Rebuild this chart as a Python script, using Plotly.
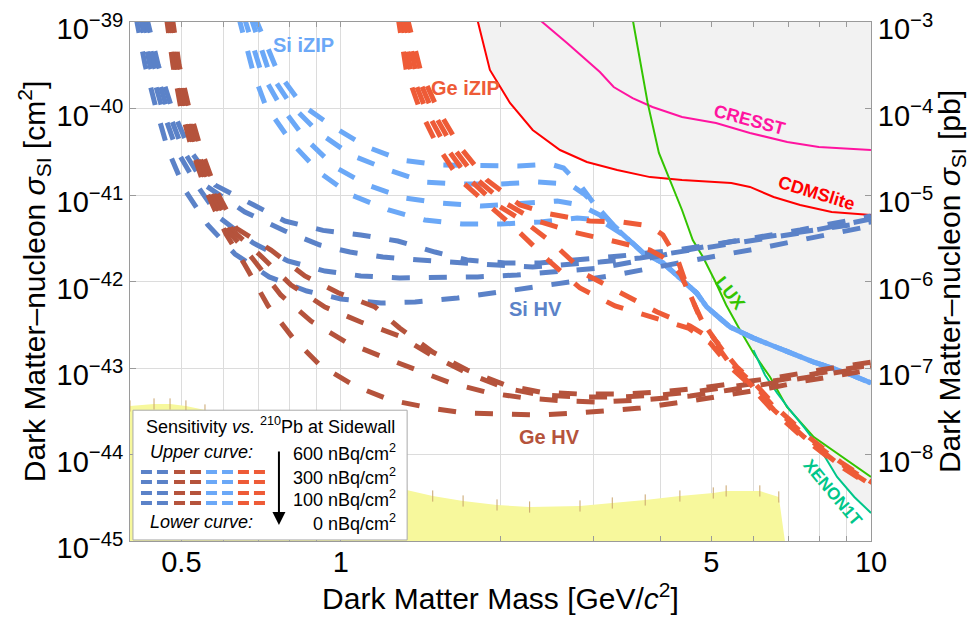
import numpy as np
import plotly.graph_objects as go

# ---------------- DATA (mass in GeV/c^2, sigma in cm^2) ----------------
# Si HV projected sensitivity, for 600 / 300 / 100 / 0 nBq/cm^2 of 210Pb
si_hv_600_m = [0.429, 0.452, 0.480, 0.519, 0.579, 0.674, 0.784, 0.925, 1.09, 1.28, 1.505, 1.73, 2.04, 2.375, 2.76, 3.36, 4.28, 5.4, 7.35, 10.0]
si_hv_600_s = [1.2e-39, 3.2e-40, 1.0e-40, 3.3e-41, 1.3e-41, 8.1e-42, 5.0e-42, 3.9e-42, 3.45e-42, 2.94e-42, 2.19e-42, 1.77e-42, 1.64e-42, 1.64e-42, 1.77e-42, 1.97e-42, 2.31e-42, 2.86e-42, 3.94e-42, 5.71e-42]
si_hv_300_m = [0.423, 0.444, 0.470, 0.504, 0.554, 0.659, 0.784, 0.913, 1.04, 1.20, 1.41, 1.66, 1.97, 2.30, 2.67, 3.08, 3.67, 4.56, 5.73, 7.35, 10.0]
si_hv_300_s = [1.2e-39, 3.2e-40, 1.0e-40, 3.3e-41, 1.3e-41, 6.36e-42, 3.84e-42, 2.64e-42, 2.19e-42, 1.92e-42, 1.77e-42, 1.64e-42, 1.55e-42, 1.47e-42, 1.55e-42, 1.68e-42, 1.87e-42, 2.31e-42, 2.86e-42, 3.64e-42, 5.28e-42]
si_hv_100_m = [0.418, 0.436, 0.460, 0.490, 0.535, 0.591, 0.683, 0.794, 0.933, 1.09, 1.29, 1.54, 1.81, 2.15, 2.59, 3.08, 3.54, 4.3, 5.4, 7.35, 10.0]
si_hv_100_s = [1.2e-39, 3.2e-40, 1.0e-40, 3.3e-41, 1.3e-41, 5.42e-42, 2.79e-42, 1.73e-42, 1.32e-42, 1.16e-42, 1.10e-42, 1.10e-42, 1.13e-42, 1.19e-42, 1.29e-42, 1.43e-42, 1.68e-42, 2.19e-42, 2.86e-42, 3.73e-42, 4.87e-42]
si_hv_0_m = [0.410, 0.427, 0.448, 0.472, 0.508, 0.561, 0.631, 0.732, 0.862, 1.0, 1.19, 1.38, 1.66, 1.94, 2.31, 2.70, 3.22, 3.83, 4.76, 6.35, 8.43, 10.0]
si_hv_0_s = [1.2e-39, 3.2e-40, 1.0e-40, 3.3e-41, 1.14e-41, 4.5e-42, 2.08e-42, 1.13e-42, 7.77e-43, 6.28e-43, 5.64e-43, 5.79e-43, 6.44e-43, 7.36e-43, 8.41e-43, 9.86e-43, 1.16e-42, 1.43e-42, 1.82e-42, 2.51e-42, 3.54e-42, 4.39e-42]

# Ge HV
ge_hv_600_m = [0.48, 0.495, 0.517, 0.545, 0.581, 0.634, 0.738, 0.855, 0.99, 1.16, 1.29, 1.49, 1.73, 2.04, 2.375, 2.825, 3.36, 4.0, 4.76, 5.66, 6.73, 8.0, 10.0]
ge_hv_600_s = [1.2e-39, 3.2e-40, 1.0e-40, 3.3e-41, 1.14e-41, 4.15e-42, 2.31e-42, 1.16e-42, 7.36e-43, 5.07e-43, 2.90e-43, 1.53e-43, 9.48e-44, 6.36e-44, 5.28e-44, 5.0e-44, 5.0e-44, 5.28e-44, 5.87e-44, 6.71e-44, 7.87e-44, 9.48e-44, 1.17e-43]
ge_hv_300_m = [0.476, 0.49, 0.51, 0.535, 0.571, 0.623, 0.70, 0.805, 0.933, 1.09, 1.29, 1.49, 1.73, 2.04, 2.375, 2.825, 3.36, 4.0, 4.76, 5.66, 6.73, 8.0, 10.0]
ge_hv_300_s = [1.2e-39, 3.2e-40, 1.0e-40, 3.3e-41, 1.14e-41, 3.94e-42, 2.08e-42, 9.11e-43, 5.07e-43, 3.40e-43, 2.34e-43, 1.38e-43, 8.75e-44, 5.87e-44, 4.88e-44, 4.62e-44, 4.62e-44, 4.88e-44, 5.42e-44, 6.19e-44, 7.26e-44, 8.75e-44, 1.08e-43]
ge_hv_100_m = [0.472, 0.486, 0.506, 0.53, 0.564, 0.615, 0.68, 0.77, 0.878, 1.02, 1.185, 1.38, 1.61, 1.91, 2.225, 2.65, 3.08, 3.67, 4.56, 5.42, 6.45, 7.67, 10.0]
ge_hv_100_s = [1.2e-39, 3.2e-40, 1.0e-40, 3.3e-41, 1.14e-41, 3.73e-42, 1.87e-42, 6.98e-43, 3.49e-43, 2.0e-43, 1.38e-43, 9.48e-44, 6.71e-44, 5.14e-44, 4.50e-44, 4.15e-44, 4.04e-44, 4.27e-44, 4.74e-44, 5.57e-44, 6.53e-44, 7.87e-44, 1.03e-43]
ge_hv_0_m = [0.468, 0.482, 0.499, 0.524, 0.556, 0.607, 0.659, 0.729, 0.812, 0.913, 1.063, 1.238, 1.472, 1.714, 2.0, 2.375, 2.80, 3.22, 3.67, 4.56, 5.42, 6.45, 7.5, 8.74, 10.0]
ge_hv_0_s = [1.2e-39, 3.2e-40, 1.0e-40, 3.3e-41, 1.14e-41, 3.54e-42, 1.55e-42, 5.21e-43, 2.22e-43, 1.08e-43, 6.19e-44, 4.27e-44, 3.45e-44, 3.02e-44, 2.94e-44, 2.86e-44, 3.02e-44, 3.18e-44, 3.45e-44, 4.15e-44, 4.88e-44, 5.87e-44, 7.08e-44, 8.30e-44, 9.48e-44]

# Si iZIP (the four curves merge into a common high-mass tail)
si_izip_600_m = [0.686, 0.76, 0.844, 0.962, 1.12, 1.30, 1.545, 1.81, 2.16, 2.48, 2.63, 2.825, 3.015, 3.22]
si_izip_600_s = [1.2e-39, 2.64e-40, 1.10e-40, 6.28e-41, 3.59e-41, 2.54e-41, 2.22e-41, 2.16e-41, 2.16e-41, 2.28e-41, 2.05e-41, 1.31e-41, 7.66e-42, 4.87e-42]
si_izip_300_m = [0.674, 0.732, 0.805, 0.905, 1.045, 1.23, 1.44, 1.68, 1.99, 2.35, 2.70, 2.89, 3.08, 3.29]
si_izip_300_s = [1.2e-39, 2.64e-40, 1.10e-40, 5.35e-41, 2.90e-41, 1.95e-41, 1.41e-41, 1.34e-41, 1.34e-41, 1.41e-41, 1.34e-41, 1.0e-41, 6.71e-42, 4.27e-42]
si_izip_100_m = [0.655, 0.707, 0.767, 0.855, 0.974, 1.12, 1.32, 1.54, 1.84, 2.17, 2.56, 2.825, 3.08, 3.33]
si_izip_100_s = [1.2e-39, 2.64e-40, 1.10e-40, 4.56e-41, 2.11e-41, 1.31e-41, 9.23e-42, 8.09e-42, 7.46e-42, 7.87e-42, 8.52e-42, 7.66e-42, 5.87e-42, 3.94e-42]
si_izip_0_m = [0.64, 0.683, 0.72, 0.808, 0.913, 1.045, 1.23, 1.44, 1.69, 2.0, 2.375, 2.79, 3.08, 3.39]
si_izip_0_s = [1.2e-39, 2.64e-40, 1.10e-40, 3.99e-41, 1.80e-41, 1.0e-41, 6.71e-42, 5.14e-42, 4.62e-42, 4.62e-42, 4.87e-42, 5.42e-42, 5.14e-42, 3.54e-42]
si_izip_tail_m = [3.51, 3.72, 4.05, 4.42, 4.69, 4.90, 5.42, 6.0, 6.73, 7.8, 9.0, 10.0]
si_izip_tail_s = [2.94e-42, 2.13e-42, 1.64e-42, 1.04e-42, 7.36e-43, 5.07e-43, 2.98e-43, 2.22e-43, 1.70e-43, 1.17e-43, 8.75e-44, 6.71e-44]

# Ge iZIP (converging into closely spaced high-mass tails)
ge_izip_600_m = [1.33, 1.415, 1.525, 1.677, 1.885, 2.177, 2.48, 2.95, 3.40, 3.83, 4.05, 4.32, 4.52, 4.76, 5.08, 5.58, 6.0, 6.7, 7.63, 8.76, 9.88, 10.15]
ge_izip_600_s = [1.2e-39, 2.64e-40, 9.62e-41, 3.59e-41, 1.49e-41, 7.66e-42, 6.03e-42, 5.0e-42, 4.87e-42, 4.39e-42, 3.45e-42, 1.77e-42, 7.98e-43, 3.79e-43, 2.11e-43, 1.03e-43, 6.89e-44, 3.27e-44, 1.59e-44, 8.19e-45, 5.07e-45, 4.56e-45]
ge_izip_300_m = [1.315, 1.385, 1.485, 1.627, 1.81, 2.04, 2.32, 2.74, 3.32, 3.83, 4.14, 4.38, 4.6, 4.84, 5.13, 5.53, 5.95, 6.64, 7.56, 8.68, 9.79, 10.05]
ge_izip_300_s = [1.2e-39, 2.64e-40, 9.62e-41, 3.59e-41, 1.49e-41, 8.09e-42, 5.14e-42, 3.73e-42, 2.86e-42, 2.31e-42, 1.77e-42, 1.19e-42, 6.11e-43, 3.14e-43, 1.95e-43, 1.03e-43, 6.89e-44, 3.27e-44, 1.59e-44, 8.19e-45, 5.07e-45, 4.56e-45]
ge_izip_100_m = [1.298, 1.356, 1.447, 1.578, 1.752, 1.97, 2.225, 2.534, 2.91, 3.39, 3.95, 4.556, 5.03, 5.47, 5.87, 6.56, 7.48, 8.58, 9.69, 9.95]
ge_izip_100_s = [1.2e-39, 2.64e-40, 9.62e-41, 3.59e-41, 1.49e-41, 7.66e-42, 4.87e-42, 2.64e-42, 1.19e-42, 7.36e-43, 4.44e-43, 3.06e-43, 2.11e-43, 1.03e-43, 6.89e-44, 3.27e-44, 1.59e-44, 8.19e-45, 5.07e-45, 4.56e-45]
ge_izip_0_m = [1.28, 1.33, 1.41, 1.525, 1.677, 1.91, 2.13, 2.46, 2.825, 3.29, 3.91, 4.52, 4.97, 5.42, 5.83, 6.51, 7.42, 8.52, 9.61, 9.87]
ge_izip_0_s = [1.2e-39, 2.64e-40, 9.62e-41, 3.59e-41, 1.49e-41, 7.46e-42, 4.15e-42, 1.77e-42, 8.41e-43, 5.21e-43, 3.79e-43, 2.90e-43, 1.95e-43, 1.03e-43, 6.89e-44, 3.27e-44, 1.59e-44, 8.19e-45, 5.07e-45, 4.56e-45]

# Existing limits
cresst_m = [2.32, 2.375, 2.67, 3.08, 3.27, 3.55, 3.87, 4.40, 5.10, 5.91, 6.95, 7.97, 10.0]
cresst_s = [1.2e-39, 1.05e-39, 5.71e-40, 2.64e-40, 1.77e-40, 1.32e-40, 1.04e-40, 7.98e-41, 6.79e-41, 5.21e-41, 4.10e-41, 3.59e-41, 3.31e-41]
cdmslite_m = [1.80, 1.85, 1.91, 2.084, 2.30, 2.59, 2.91, 3.32, 3.83, 4.40, 5.45, 5.91, 6.55, 7.35, 8.43, 10.0]
cdmslite_s = [1.2e-39, 6.19e-40, 2.79e-40, 1.16e-40, 5.64e-41, 3.31e-41, 2.41e-41, 1.95e-41, 1.61e-41, 1.49e-41, 1.38e-41, 1.24e-41, 9.48e-42, 7.66e-42, 6.36e-42, 5.87e-42]
lux_m = [3.54, 3.67, 3.79, 3.98, 4.18, 4.40, 4.61, 4.82, 5.10, 5.33, 5.66, 6.0, 6.45, 6.94, 7.8, 8.85, 10.0]
lux_s = [1.2e-39, 3.64e-40, 1.16e-40, 3.06e-41, 1.49e-41, 6.71e-42, 3.02e-42, 1.92e-42, 9.61e-43, 5.35e-43, 2.75e-43, 1.49e-43, 7.87e-44, 3.54e-44, 1.59e-44, 9.35e-45, 5.50e-45]
xenon1t_m = [6.0, 6.31, 6.65, 7.03, 7.5, 8.0, 8.63, 9.3, 10.0]
xenon1t_s = [1.61e-43, 8.30e-44, 5.14e-44, 3.27e-44, 2.02e-44, 1.19e-44, 5.50e-45, 3.23e-45, 2.11e-45]

# Yellow region upper boundary
yellow_m = [0.40, 0.444, 0.476, 0.51, 0.554, 0.674, 0.837, 1.04, 1.33, 1.49, 1.70, 1.97, 2.27, 2.825, 3.25, 3.75, 4.36, 5.04, 5.33, 6.17, 6.70, 6.88]
yellow_s = [3.64e-44, 3.84e-44, 3.84e-44, 3.64e-44, 3.27e-44, 1.92e-44, 9.86e-45, 5.80e-45, 3.89e-45, 3.31e-45, 2.90e-45, 2.61e-45, 2.47e-45, 2.54e-45, 2.75e-45, 2.98e-45, 3.31e-45, 3.59e-45, 3.79e-45, 3.79e-45, 3.23e-45, 1.0e-45]

# Ticks
x_tick_vals = [0.4, 0.5, 0.6, 0.7, 0.8, 0.9, 1, 2, 3, 4, 5, 6, 7, 8, 9, 10]
x_tick_text = ["", "0.5", "", "", "", "", "1", "", "", "", "5", "", "", "", "", "10"]
y_left_exps = [-45, -44, -43, -42, -41, -40, -39]
y_right_exps = [-8, -7, -6, -5, -4, -3]

# ---------------- STYLE ----------------
FONT = "Liberation Sans, Arial, Helvetica, sans-serif"
C_SIHV = "#5B82C8"
C_GEHV = "#B5533C"
C_SIIZ = "#6BA8F7"
C_GEIZ = "#EE5B37"
DASH = "18px,19px"
W = 5

fig = go.Figure()

# grey excluded region (union of CDMSlite / LUX / XENON1T limits)
cm, cs = np.array(cdmslite_m), np.array(cdmslite_s)
lm, ls = np.array(lux_m), np.array(lux_s)
xm, xs = np.array(xenon1t_m), np.array(xenon1t_s)
gx = list(cm[cm < 4.15]) + list(lm[(lm >= 4.15) & (lm < 6.5)]) + list(xm[xm >= 6.5]) + [xm[-1]]
gy = list(cs[cm < 4.15]) + list(ls[(lm >= 4.15) & (lm < 6.5)]) + list(xs[xm >= 6.5]) + [cs[0]]
fig.add_trace(go.Scatter(x=gx, y=gy, fill="toself", fillcolor="#F2F2F2", mode="lines",
                         line=dict(width=0), hoverinfo="skip"))

# yellow region
yx = yellow_m + [yellow_m[0]]
yy = yellow_s + [yellow_s[-1]]
fig.add_trace(go.Scatter(x=yx, y=yy, fill="toself", fillcolor="#F7F89C", mode="lines",
                         line=dict(width=0), hoverinfo="skip"))
fig.add_trace(go.Scatter(x=yellow_m[:-1], y=yellow_s[:-1], mode="markers", hoverinfo="skip",
                         marker=dict(symbol="line-ns", size=8, line=dict(width=1, color="#C9A46C"))))

# limit curves
for m, s, c in [(cresst_m, cresst_s, "#FF14A0"), (cdmslite_m, cdmslite_s, "#FF0000"),
                (lux_m, lux_s, "#33C400"), (xenon1t_m, xenon1t_s, "#00C68A")]:
    fig.add_trace(go.Scatter(x=m, y=s, mode="lines", line=dict(color=c, width=2), hoverinfo="skip"))


def dashed(m, s, c):
    fig.add_trace(go.Scatter(x=m, y=s, mode="lines", hoverinfo="skip",
                             line=dict(color=c, width=W, dash=DASH)))


for m, s in [(si_izip_600_m, si_izip_600_s), (si_izip_300_m, si_izip_300_s),
             (si_izip_100_m, si_izip_100_s), (si_izip_0_m, si_izip_0_s)]:
    dashed(m + si_izip_tail_m, s + si_izip_tail_s, C_SIIZ)
for m, s in [(si_hv_600_m, si_hv_600_s), (si_hv_300_m, si_hv_300_s),
             (si_hv_100_m, si_hv_100_s), (si_hv_0_m, si_hv_0_s)]:
    dashed(m, s, C_SIHV)
for m, s in [(ge_hv_600_m, ge_hv_600_s), (ge_hv_300_m, ge_hv_300_s),
             (ge_hv_100_m, ge_hv_100_s), (ge_hv_0_m, ge_hv_0_s)]:
    dashed(m, s, C_GEHV)
for m, s in [(ge_izip_600_m, ge_izip_600_s), (ge_izip_300_m, ge_izip_300_s),
             (ge_izip_100_m, ge_izip_100_s), (ge_izip_0_m, ge_izip_0_s)]:
    dashed(m, s, C_GEIZ)

# dummy trace for the right (pb) axis
fig.add_trace(go.Scatter(x=[1], y=[1e-6], yaxis="y2", mode="markers",
                         marker=dict(opacity=0), hoverinfo="skip"))

FRAME = "#9A9A9A"
GRID = "#DCDCDC"
TICKF = dict(family=FONT, size=29, color="black")
TITLEF = dict(family=FONT, size=30, color="black")

fig.update_layout(
    width=979, height=626, autosize=False, showlegend=False,
    margin=dict(l=130, r=108, t=22, b=85, autoexpand=False),
    plot_bgcolor="white", paper_bgcolor="white",
    font=dict(family=FONT, color="black"),
    xaxis=dict(type="log", range=[np.log10(0.4), 1], tickmode="array",
               tickvals=x_tick_vals, ticktext=x_tick_text, showgrid=True,
               gridcolor=GRID, gridwidth=1, showline=True, linecolor=FRAME, linewidth=1,
               mirror="ticks", ticks="inside", ticklen=5, tickcolor=FRAME,
               tickfont=TICKF, zeroline=False, ticklabelstandoff=-5,
               title=dict(text="Dark Matter Mass [GeV/<i>c</i><sup>2</sup>]", font=TITLEF, standoff=2)),
    yaxis=dict(type="log", range=[-45, -39], tickmode="array",
               tickvals=[10.0 ** e for e in y_left_exps],
               ticktext=["10<sup>\u2212%d</sup>" % (-e) for e in y_left_exps],
               showgrid=True, gridcolor=GRID, gridwidth=1, showline=True, linecolor=FRAME,
               linewidth=1, ticks="inside", ticklen=6, tickcolor=FRAME, tickfont=TICKF,
               zeroline=False, ticklabelshift=7,
               title=dict(text="Dark Matter\u2013nucleon <i>\u03c3</i><sub>SI</sub> [cm<sup>2</sup>]",
                          font=TITLEF, standoff=2)),
    yaxis2=dict(type="log", range=[-9, -3], overlaying="y", side="right", tickmode="array",
                tickvals=[10.0 ** e for e in y_right_exps],
                ticktext=["10<sup>\u2212%d</sup>" % (-e) for e in y_right_exps],
                showgrid=False, showline=True, linecolor=FRAME, linewidth=1,
                ticks="inside", ticklen=6, tickcolor=FRAME, tickfont=TICKF, zeroline=False,
                ticklabelshift=7,
                title=dict(text="Dark Matter\u2013nucleon <i>\u03c3</i><sub>SI</sub> [pb]",
                           font=TITLEF, standoff=0)),
)

# ---------- legend box ----------
shapes = [dict(type="rect", xref="paper", yref="paper", x0=0.004, x1=0.374, y0=0.002, y1=0.252,
               fillcolor="white", line=dict(color="#AAAAAA", width=1), layer="above")]
row_y = [0.133, 0.1137, 0.0925, 0.0732]
segs = [(0.0148, 0.0513, C_SIHV), (0.0594, 0.0972, C_GEHV), (0.1026, 0.139, C_SIIZ), (0.1457, 0.1835, C_GEIZ)]
for ry in row_y:
    for x0, x1, c in segs:
        shapes.append(dict(type="line", xref="paper", yref="paper", x0=x0, x1=x1, y0=ry, y1=ry,
                           line=dict(color=c, width=4, dash="11px,5px"), layer="above"))
fig.update_layout(shapes=shapes)

ann = []


def txt(t, x, y, size=18, color="black", xanchor="center", angle=0, bold=False):
    if bold:
        t = "<b>" + t + "</b>"
    ann.append(dict(text=t, x=x, y=y, xref="paper", yref="paper", showarrow=False,
                    xanchor=xanchor, yanchor="middle", textangle=angle,
                    font=dict(family=FONT, size=size, color=color)))


txt("Sensitivity <i>vs.</i> <sup>210</sup>Pb at Sidewall", 0.189, 0.2216)
txt("<i>Upper curve:</i>", 0.097, 0.1715)
txt("<i>Lower curve:</i>", 0.097, 0.0366)
for t, y in [("600 nBq/cm<sup>2</sup>", 0.1696), ("300 nBq/cm<sup>2</sup>", 0.125),
             ("100 nBq/cm<sup>2</sup>", 0.081), ("0 nBq/cm<sup>2</sup>", 0.0366)]:
    txt(t, 0.3617, y, xanchor="right")
ann.append(dict(text="", x=0.201, y=0.0308, xref="paper", yref="paper", ax=0, ay=-75,
                showarrow=True, arrowhead=2, arrowsize=1.3, arrowwidth=2, arrowcolor="black"))

txt("Si iZIP", 0.2335, 0.9557, size=20, color=C_SIIZ, bold=True)
txt("Ge iZIP", 0.4534, 0.8728, size=20, color=C_GEIZ, bold=True)
txt("Si HV", 0.5466, 0.447, size=20, color=C_SIHV, bold=True)
txt("Ge HV", 0.5668, 0.2004, size=20, color=C_GEHV, bold=True)
txt("CRESST", 0.8367, 0.8112, size=18, color="#FF14A0", angle=15, bold=True)
txt("CDMSlite", 0.9258, 0.6705, size=18, color="#FF0000", angle=17, bold=True)
txt("LUX", 0.8097, 0.4778, size=18, color="#33C400", angle=52, bold=True)
txt("XENON1T", 0.9474, 0.0925, size=17, color="#00C68A", angle=50, bold=True)
fig.update_layout(annotations=ann)

fig.write_html("out.html", config={"displayModeBar": False},
               post_script="document.body.style.margin='0';")
